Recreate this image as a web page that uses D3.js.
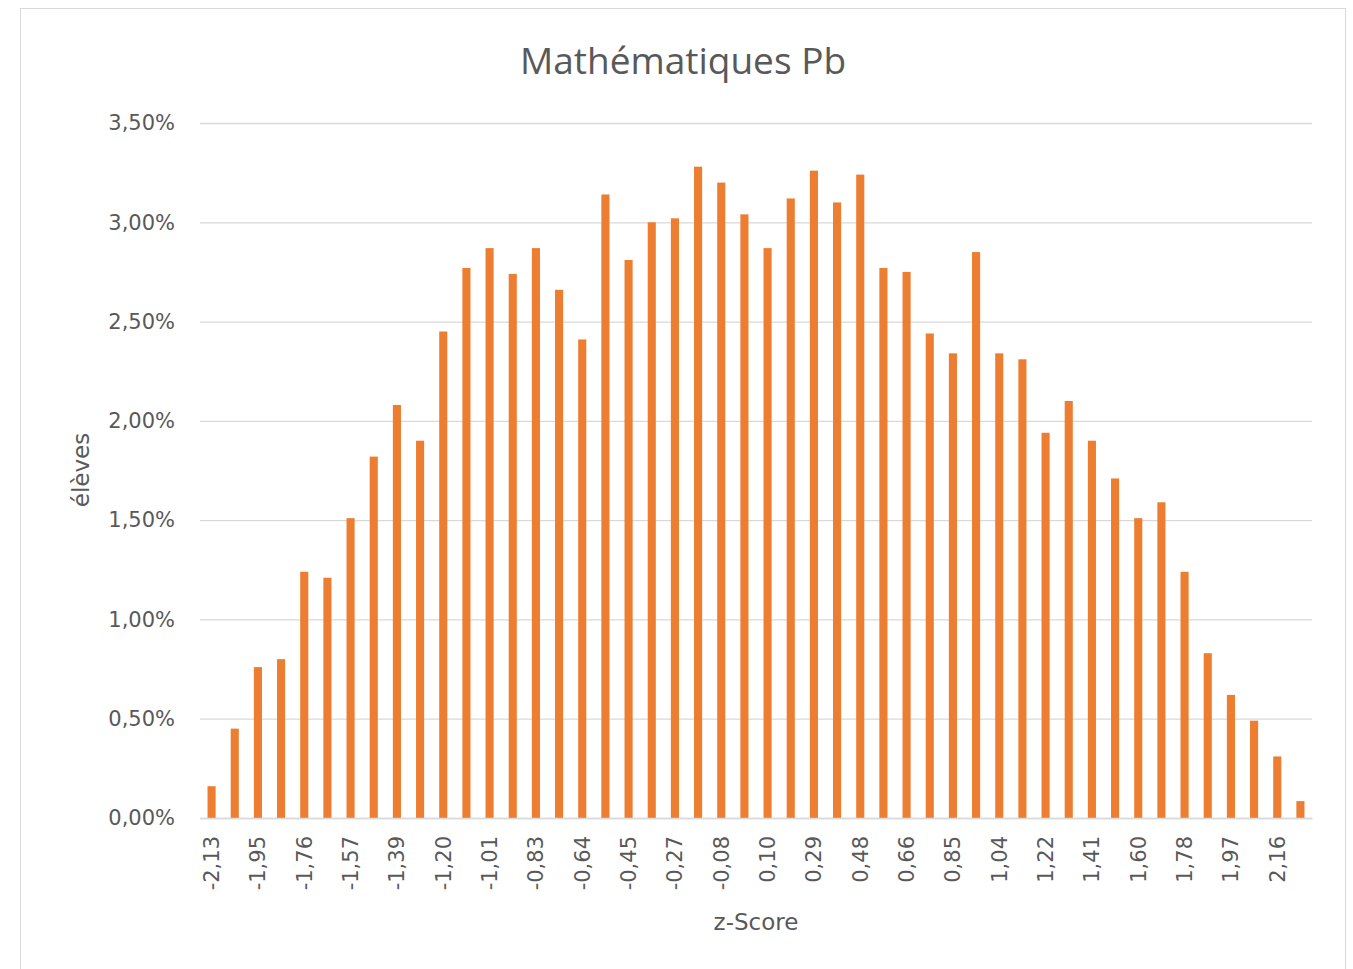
<!DOCTYPE html>
<html><head><meta charset="utf-8">
<script src="https://cdn.jsdelivr.net/npm/d3@7"></script>
<style>body{margin:0;background:#fff;} text{font-family:"DejaVu Sans",sans-serif;}</style>
</head><body><svg id="c" width="1353" height="969"></svg>
<script>
const categories = ["-2,13","-2,04","-1,95","-1,85","-1,76","-1,67","-1,57","-1,48","-1,39","-1,29","-1,20","-1,11","-1,01","-0,92","-0,83","-0,73","-0,64","-0,55","-0,45","-0,36","-0,27","-0,17","-0,08","0,01","0,10","0,20","0,29","0,38","0,48","0,57","0,66","0,76","0,85","0,94","1,04","1,13","1,22","1,32","1,41","1,50","1,60","1,69","1,78","1,88","1,97","2,06","2,16","2,25"];
const values = [0.16,0.45,0.76,0.80,1.24,1.21,1.51,1.82,2.08,1.90,2.45,2.77,2.87,2.74,2.87,2.66,2.41,3.14,2.81,3.00,3.02,3.28,3.20,3.04,2.87,3.12,3.26,3.10,3.24,2.77,2.75,2.44,2.34,2.85,2.34,2.31,1.94,2.10,1.90,1.71,1.51,1.59,1.24,0.83,0.62,0.49,0.31,0.085];
const yTicks = [0,0.5,1,1.5,2,2.5,3,3.5];
const title = "Mathématiques Pb", xTitle = "z-Score", yTitle = "élèves";

const svg = d3.select("#c");
const L=200,R=1312,T=123,B=818;
const grey="#595959";
svg.append("rect").attr("x",20.5).attr("y",8.5).attr("width",1325).attr("height",980).attr("fill","none").attr("stroke","#d9d9d9");
const x = d3.scaleBand().domain(categories).range([L,R]).paddingInner(0.65).paddingOuter(0.325);
const y = d3.scaleLinear().domain([0,3.5]).range([B,T]);
const fmt = v => d3.format(".2f")(v).replace(".",",")+"%";

const ya = svg.append("g").attr("transform",`translate(${L},0)`)
  .call(d3.axisLeft(y).tickValues(yTicks).tickSize(-(R-L)).tickFormat(fmt).tickPadding(25));
ya.select(".domain").remove();
ya.selectAll("line").attr("stroke","#d9d9d9").attr("stroke-width",1.3);
ya.selectAll("text").attr("fill",grey).style("font-size","21px");

svg.append("g").selectAll("rect").data(values).join("rect")
  .attr("x",(d,i)=>x(categories[i])).attr("width",x.bandwidth())
  .attr("y",d=>y(d)).attr("height",d=>B-y(d)).attr("fill","#ed7d31");

const xa = svg.append("g").attr("transform",`translate(0,${B})`)
  .call(d3.axisBottom(x).tickValues(categories.filter((c,i)=>i%2===0)).tickSize(0).tickPadding(0));
xa.select(".domain").attr("stroke","#d9d9d9").attr("stroke-width",1.3);
xa.selectAll("text").attr("fill",grey).style("font-size","21px")
  .attr("transform","rotate(-90)").attr("text-anchor","end").attr("dy","0.35em").attr("x",-18).attr("y",0);

svg.append("text").attr("x",683).attr("y",74).attr("text-anchor","middle").attr("fill",grey)
  .style("font-family","'Open Sans',sans-serif").style("font-size","37px").text(title);
svg.append("text").attr("x",756).attr("y",930).attr("text-anchor","middle").attr("fill",grey).style("font-size","23px").text(xTitle);
svg.append("text").attr("transform",`translate(89,470) rotate(-90)`).attr("text-anchor","middle").attr("fill",grey).style("font-size","23px").text(yTitle);
</script></body></html>
